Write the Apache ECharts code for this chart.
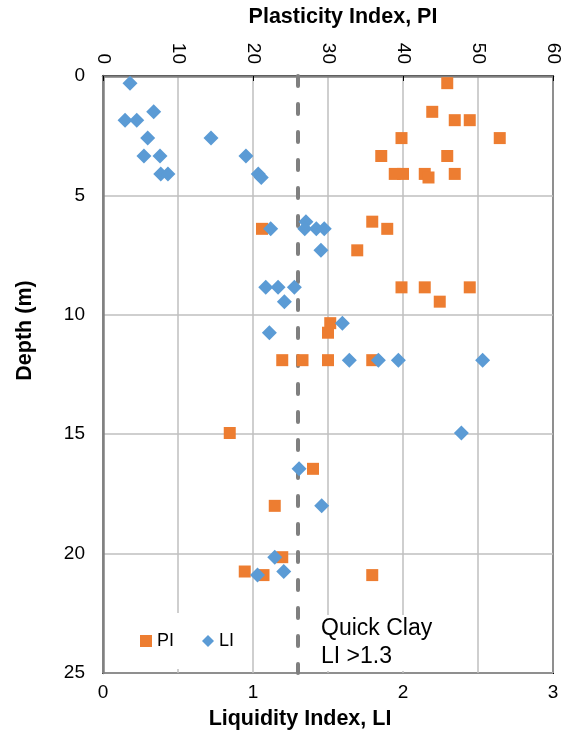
<!DOCTYPE html>
<html>
<head>
<meta charset="utf-8">
<script src="https://cdn.jsdelivr.net/npm/echarts@6/dist/echarts.min.js"></script>
<style>
  html, body { margin: 0; padding: 0; background: #fff; }
  #chart { width: 568px; height: 736px; }
</style>
</head>
<body>
<div id="chart"></div>
<script>
// Plasticity index (top axis) against depth
var piValues = [45.9, 43.9, 46.9, 48.9, 39.8, 52.9, 37.1, 45.9, 38.9, 40.0, 42.9, 46.9, 43.4,
    35.9, 21.2, 37.9, 33.9, 39.8, 42.9, 48.9, 44.9, 30.3, 30.0, 23.9, 26.6, 30.0, 35.9,
    16.9, 28.0, 22.9, 23.9, 18.9, 21.4, 35.9];
var piDepths = [0.3, 1.5, 1.85, 1.85, 2.6, 2.6, 3.35, 3.35, 4.1, 4.1, 4.1, 4.1, 4.25,
    6.1, 6.4, 6.4, 7.3, 8.85, 8.85, 8.85, 9.45, 10.35, 10.75, 11.9, 11.9, 11.9, 11.9,
    14.95, 16.45, 18.0, 20.15, 20.75, 20.9, 20.9];

// Liquidity index (bottom axis) against depth
var liValues = [0.18, 0.147, 0.225, 0.338, 0.298, 0.72, 0.273, 0.38, 0.385, 0.433, 0.953,
    1.035, 1.055, 1.118, 1.353, 1.345, 1.422, 1.475, 1.453, 1.085, 1.167, 1.276, 1.209,
    1.596, 1.109, 1.642, 1.836, 1.969, 2.531, 2.389, 1.307, 1.458, 1.145, 1.205, 1.03];
var liDepths = [0.3, 1.85, 1.85, 1.5, 2.6, 2.6, 3.35, 3.35, 4.1, 4.1, 3.35,
    4.1, 4.25, 6.4, 6.1, 6.4, 6.4, 6.4, 7.3, 8.85, 8.85, 8.85, 9.45,
    10.35, 10.75, 11.9, 11.9, 11.9, 11.9, 14.95, 16.45, 18.0, 20.15, 20.75, 20.9];

var quickClayLI = 1.3;

function pairs(xs, ys) {
    return xs.map(function (v, i) { return [v, ys[i]]; });
}

var myChart = echarts.init(document.getElementById('chart'));
var font = 'Liberation Sans, Arial, sans-serif';

option = {
    animation: false,
    textStyle: { fontFamily: font, color: '#000' },
    grid: {
        left: 103, top: 76, width: 450, height: 597,
        show: true, borderColor: '#000', borderWidth: 2, backgroundColor: 'transparent'
    },
    legend: {
        data: ['PI', 'LI'],
        left: 134, top: 613,
        backgroundColor: '#fff',
        padding: [19, 10, 19, 6],
        itemWidth: 12, itemHeight: 12, itemGap: 28,
        textStyle: { fontSize: 18, color: '#000', fontFamily: font }
    },
    xAxis: [{
            type: 'value', position: 'bottom',
            min: 0, max: 3, interval: 1,
            name: 'Liquidity Index, LI', nameLocation: 'middle', nameGap: 35,
            nameTextStyle: { fontSize: 21.5, fontWeight: 'bold', color: '#000', padding: [0, 56, 0, 0] },
            axisLine: { show: true, lineStyle: { color: '#000', width: 2 } },
            axisTick: { show: true, length: 5, lineStyle: { color: '#000' } },
            axisLabel: { fontSize: 19, color: '#000', margin: 10 },
            splitLine: { show: false }
        },
        {
            type: 'value', position: 'top',
            min: 0, max: 60, interval: 10,
            name: 'Plasticity Index, PI', nameLocation: 'middle', nameGap: 48,
            nameTextStyle: { fontSize: 21.5, fontWeight: 'bold', color: '#000', padding: [0, 0, 0, 30] },
            axisLine: { show: true, lineStyle: { color: '#808080', width: 2.5 } },
            axisTick: { show: false },
            axisLabel: { fontSize: 19, color: '#000', rotate: 90, margin: 12 },
            splitLine: { show: true, lineStyle: { color: '#bfbfbf', width: 1.5 } }
        }
    ],
    yAxis: [{
        type: 'value', inverse: true,
        min: 0, max: 25, interval: 5,
        name: 'Depth (m)', nameLocation: 'middle', nameGap: 67,
        nameTextStyle: { fontSize: 21.5, fontWeight: 'bold', color: '#000', padding: [0, 0, 0, 88] },
        axisLine: { show: true, lineStyle: { color: '#808080', width: 2.5 } },
        axisTick: { show: false },
        axisLabel: { fontSize: 19, color: '#000', margin: 18 },
        splitLine: { show: true, lineStyle: { color: '#bfbfbf', width: 1.5 } }
    }],
    graphic: [{
        type: 'text',
        left: 318, top: 615, z: 5,
        style: {
            text: 'Quick Clay\nLI >1.3',
            fontSize: 23, lineHeight: 28, fontFamily: font,
            fill: '#000', backgroundColor: '#fff', padding: [0, 4, 0, 3]
        }
    }],
    series: [{
            name: 'PI',
            type: 'scatter',
            xAxisIndex: 1,
            symbol: 'rect',
            symbolSize: 12,
            itemStyle: { color: '#ED7D31', opacity: 1 },
            data: pairs(piValues, piDepths),
            z: 3
        },
        {
            name: 'LI',
            type: 'scatter',
            xAxisIndex: 0,
            symbol: 'diamond',
            symbolSize: 15,
            itemStyle: { color: '#5B9BD5', opacity: 1 },
            data: pairs(liValues, liDepths),
            z: 4,
            markLine: {
                silent: true, symbol: 'none', z: 2,
                label: { show: false },
                lineStyle: { color: '#7f7f7f', width: 4, type: [10, 18], cap: 'round' },
                data: [{ xAxis: quickClayLI }]
            }
        }
    ]
};
myChart.setOption(option);
</script>
</body>
</html>
